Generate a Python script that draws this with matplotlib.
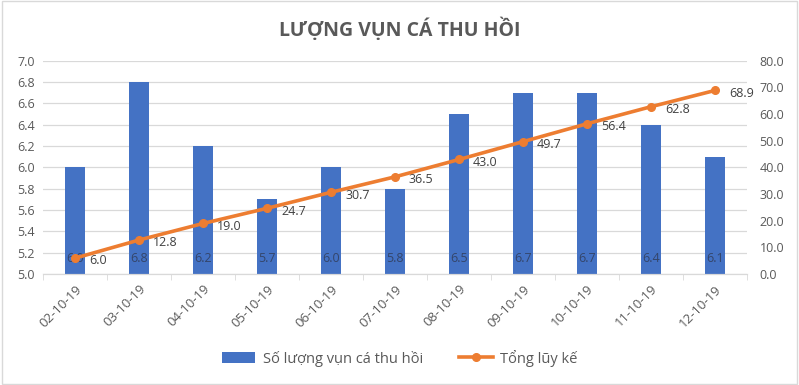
import matplotlib.pyplot as plt
import numpy as np

dates = ["02-10-19", "03-10-19", "04-10-19", "05-10-19", "06-10-19", "07-10-19",
         "08-10-19", "09-10-19", "10-10-19", "11-10-19", "12-10-19"]
daily = [6.0, 6.8, 6.2, 5.7, 6.0, 5.8, 6.5, 6.7, 6.7, 6.4, 6.1]
total = [6.0, 12.8, 19.0, 24.7, 30.7, 36.5, 43.0, 49.7, 56.4, 62.8, 68.9]

plt.rcParams['font.family'] = ['Open Sans', 'DejaVu Sans']
gray = '#595959'
blue = '#4472C4'
orange = '#ED7D31'

fig = plt.figure(figsize=(7.99, 3.85), dpi=100)
ax = fig.add_axes([0.054, 0.288, 0.881, 0.554])
ax2 = ax.twinx()

x = np.arange(len(dates))
ax.bar(x, [v - 5.0 for v in daily], bottom=5.0, width=0.31, color=blue, zorder=2,
       label="Số lượng vụn cá thu hồi")
for xi, v in zip(x, daily):
    ax.annotate(f"{v:.1f}", (xi, 5.0), xytext=(0, 11), textcoords='offset points',
                ha='center', va='center', fontsize=9, color='#34456A', zorder=3)

ax2.plot(x, total, color=orange, lw=2.6, marker='o', ms=5.5, zorder=4,
         label="Tổng lũy kế")
for xi, v in zip(x, total):
    ax2.annotate(f"{v:.1f}", (xi, v), xytext=(10, -2), textcoords='offset points',
                 ha='left', va='center', fontsize=9, color='#404040')

ax.set_xlim(-0.5, len(dates) - 0.5)
ax.set_ylim(5.0, 7.0)
ax.set_yticks(np.arange(5.0, 7.01, 0.2))
ax.set_yticklabels([f"{t:.1f}" for t in np.arange(5.0, 7.01, 0.2)])
ax2.set_ylim(0, 80)
ax2.set_yticks(np.arange(0, 81, 10))
ax2.set_yticklabels([f"{t:.1f}" for t in np.arange(0, 81, 10)])

ax.set_xticks(x)
ax.set_xticklabels(dates, rotation=45, ha='right', rotation_mode='anchor')
ax.set_xticks(np.arange(-0.5, len(dates), 1), minor=True)
ax.tick_params(axis='x', which='major', length=0, pad=6, labelsize=9.5, labelcolor=gray)
ax.tick_params(axis='x', which='minor', length=4, color='#D9D9D9', direction='out')
ax.tick_params(axis='y', length=0, labelsize=9, labelcolor=gray, pad=6)
ax2.tick_params(axis='y', length=0, labelsize=9, labelcolor=gray, pad=9)

ax.yaxis.grid(True, color='#D9D9D9', lw=0.9, zorder=0)
ax.set_axisbelow(True)
for a in (ax, ax2):
    for s in ('top', 'left', 'right'):
        a.spines[s].set_visible(False)
    a.spines['bottom'].set_color('#D9D9D9')

fig.text(0.5, 0.925, "LƯỢNG VỤN CÁ THU HỒI", ha='center', va='center',
         fontsize=14, fontweight='bold', color=gray)

h1, l1 = ax.get_legend_handles_labels()
h2, l2 = ax2.get_legend_handles_labels()
fig.legend(h1 + h2, l1 + l2, loc='center', bbox_to_anchor=(0.5, 0.07), ncol=2,
           frameon=False, fontsize=10.5, labelcolor=gray, columnspacing=2.5,
           handlelength=2.3, handletextpad=0.5)

fig.patches.append(plt.Rectangle((0.002, 0.003), 0.996, 0.994, transform=fig.transFigure,
                                 fill=False, edgecolor='#D9D9D9', lw=1))

fig.savefig('out.png', dpi=100)
